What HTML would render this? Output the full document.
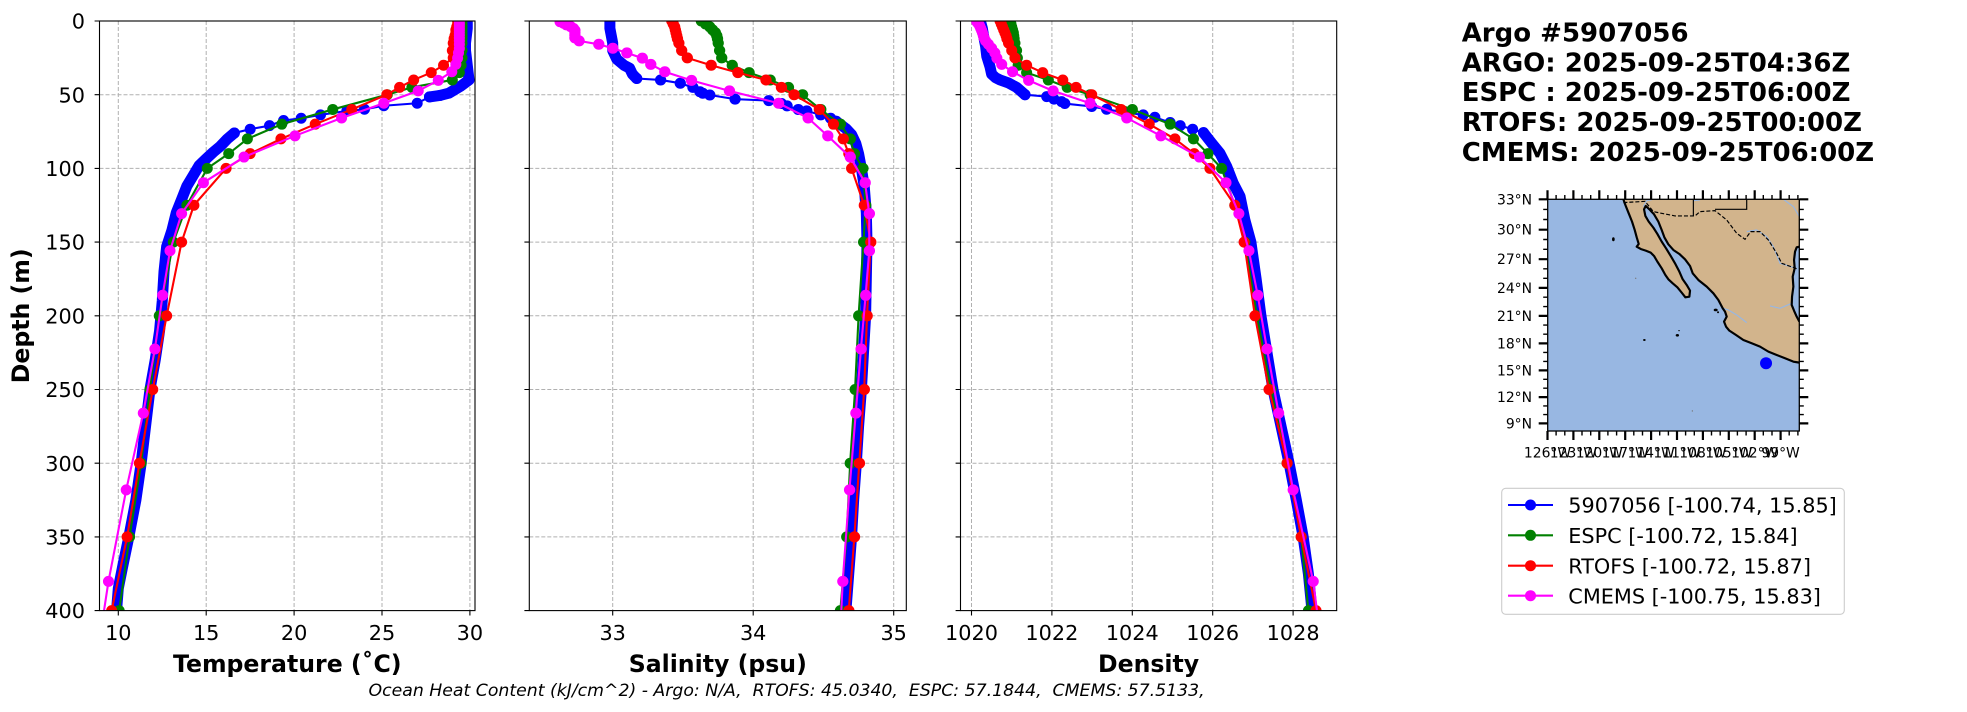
<!DOCTYPE html>
<html><head><meta charset="utf-8"><style>
html,body{margin:0;padding:0;background:#fff;overflow:hidden}
svg{display:block}
text{font-family:"DejaVu Sans","Liberation Sans",sans-serif;fill:#000}
.tk{font-size:20.8px}
.al{font-size:23.6px;font-weight:bold}
.ml{font-size:13.9px}
.ln{fill:none;stroke-width:2.1;stroke-linejoin:round;stroke-linecap:round}
.dt{fill:none;stroke-width:11;stroke-linecap:round;stroke-linejoin:round}
.gr{stroke:#b0b0b0;stroke-width:1;stroke-dasharray:4 2;fill:none}
</style></head><body>
<svg width="1967" height="712" viewBox="0 0 1967 712" xmlns="http://www.w3.org/2000/svg">
<defs>
<clipPath id="cpT"><rect x="99.5" y="21" width="375.5" height="589.6"/></clipPath>
<clipPath id="cpS"><rect x="529.3" y="21" width="377" height="589.6"/></clipPath>
<clipPath id="cpD"><rect x="960.5" y="21" width="376.2" height="589.6"/></clipPath>
<clipPath id="cpM"><rect x="1547.7" y="199.3" width="251.6" height="231.7"/></clipPath>
</defs>
<rect x="0" y="0" width="1967" height="712" fill="#fff"/>

<!-- GRIDS -->
<g class="gr">
<path d="M99.5,94.7H475M99.5,168.4H475M99.5,242.1H475M99.5,315.8H475M99.5,389.5H475M99.5,463.2H475M99.5,536.9H475"/>
<path d="M118.3,21V610.6M206.2,21V610.6M294.1,21V610.6M382,21V610.6M469.9,21V610.6"/>
<path d="M529.3,94.7H906.3M529.3,168.4H906.3M529.3,242.1H906.3M529.3,315.8H906.3M529.3,389.5H906.3M529.3,463.2H906.3M529.3,536.9H906.3"/>
<path d="M612.7,21V610.6M753.2,21V610.6M893.7,21V610.6"/>
<path d="M960.5,94.7H1336.7M960.5,168.4H1336.7M960.5,242.1H1336.7M960.5,315.8H1336.7M960.5,389.5H1336.7M960.5,463.2H1336.7M960.5,536.9H1336.7"/>
<path d="M971.5,21V610.6M1051.9,21V610.6M1132.3,21V610.6M1212.7,21V610.6M1293.1,21V610.6"/>
</g>

<!-- TEMPERATURE SERIES -->
<g clip-path="url(#cpT)">
<g transform="translate(118.3,21) scale(17.58,1.474) translate(-10,0)">
<path class="dt" stroke="#0000ff" vector-effect="non-scaling-stroke" d="M29.85,0 29.85,5 29.8,10 29.75,15 29.75,20 29.8,25 29.85,30 29.9,35 29.95,40 29.5,44 28.8,49 28.3,50.5 27.7,51.5"/>
<path class="ln" stroke="#0000ff" vector-effect="non-scaling-stroke" d="M27.7,51.5 27.0,55.8 25.1,57.5 24.0,59.9 23.0,61 21.5,63.7 20.4,66 19.4,67.5 18.6,71 17.5,73.4 16.6,76"/>
<path class="dt" stroke="#0000ff" vector-effect="non-scaling-stroke" d="M28.3,50.5h.002M27.7,51.5h.002M27.0,55.8h.002M25.1,57.5h.002M24.0,59.9h.002M23.0,61h.002M21.5,63.7h.002M20.4,66h.002M19.4,67.5h.002M18.6,71h.002M17.5,73.4h.002M16.6,76h.002"/>
<path class="dt" stroke="#0000ff" vector-effect="non-scaling-stroke" d="M16.6,76 16.2,80 15.8,85 15.4,89 14.95,94 14.6,98 14.25,105 13.9,112 13.6,121 13.3,130 13.05,142 12.75,153 12.6,170 12.5,190 12.35,210 12.1,230 11.8,250 11.55,275 11.3,300 11.0,325 10.6,350 10.25,370 10.0,385 9.9,400"/>

<path class="ln" stroke="#008000" vector-effect="non-scaling-stroke" d="M29.55,0 29.55,2 29.55,4 29.55,6 29.55,8 29.55,10 29.55,12 29.55,15 29.55,20 29.55,25 29.5,30 29.4,35 29.0,40 26.7,45 25.3,50 22.2,60 19.3,70 17.34,80 16.28,90 15.06,100 13.9,125 13.13,150 12.33,200 11.8,250 11.3,300 10.64,350 10.05,400"/>
<path class="dt" stroke="#008000" vector-effect="non-scaling-stroke" d="M29.55,0h.002M29.55,2h.002M29.55,4h.002M29.55,6h.002M29.55,8h.002M29.55,10h.002M29.55,12h.002M29.55,15h.002M29.55,20h.002M29.55,25h.002M29.5,30h.002M29.4,35h.002M29.0,40h.002M26.7,45h.002M25.3,50h.002M22.2,60h.002M19.3,70h.002M17.34,80h.002M16.28,90h.002M15.06,100h.002M13.9,125h.002M13.13,150h.002M12.33,200h.002M11.8,250h.002M11.3,300h.002M10.64,350h.002M10.05,400h.002"/>

<path class="ln" stroke="#ff0000" vector-effect="non-scaling-stroke" d="M29.3,0 29.3,2 29.25,4 29.2,6 29.2,8 29.15,10 29.1,12 29.05,15 29.0,20 29.05,25 28.5,30 27.8,35 26.8,40 26.0,45 25.27,50 23.28,60 21.2,70 19.25,80 17.5,90 16.13,100 14.3,125 13.6,150 12.75,200 11.96,250 11.2,300 10.5,350 9.62,400"/>
<path class="dt" stroke="#ff0000" vector-effect="non-scaling-stroke" d="M29.3,0h.002M29.3,2h.002M29.25,4h.002M29.2,6h.002M29.2,8h.002M29.15,10h.002M29.1,12h.002M29.05,15h.002M29.0,20h.002M29.05,25h.002M28.5,30h.002M27.8,35h.002M26.8,40h.002M26.0,45h.002M25.27,50h.002M23.28,60h.002M21.2,70h.002M19.25,80h.002M17.5,90h.002M16.13,100h.002M14.3,125h.002M13.6,150h.002M12.75,200h.002M11.96,250h.002M11.2,300h.002M10.5,350h.002M9.62,400h.002"/>

<path class="ln" stroke="#ff00ff" vector-effect="non-scaling-stroke" d="M29.4,0.5 29.4,1.5 29.4,2.6 29.4,3.8 29.4,5.1 29.4,6.4 29.4,7.9 29.4,9.6 29.4,11.4 29.4,13.5 29.4,15.8 29.4,18.5 29.35,21.6 29.3,25.2 29.2,29.4 28.97,34.4 28.2,40.3 27.06,47.4 25.1,55.8 22.7,65.8 20.05,77.9 17.15,92.3 14.84,109.7 13.6,130.7 12.94,155.9 12.52,186.1 12.08,222.5 11.42,266 10.45,318.1 9.44,380.2 8.5,453.9"/>
<path class="dt" stroke="#ff00ff" vector-effect="non-scaling-stroke" d="M29.4,0.5h.002M29.4,1.5h.002M29.4,2.6h.002M29.4,3.8h.002M29.4,5.1h.002M29.4,6.4h.002M29.4,7.9h.002M29.4,9.6h.002M29.4,11.4h.002M29.4,13.5h.002M29.4,15.8h.002M29.4,18.5h.002M29.35,21.6h.002M29.3,25.2h.002M29.2,29.4h.002M28.97,34.4h.002M28.2,40.3h.002M27.06,47.4h.002M25.1,55.8h.002M22.7,65.8h.002M20.05,77.9h.002M17.15,92.3h.002M14.84,109.7h.002M13.6,130.7h.002M12.94,155.9h.002M12.52,186.1h.002M12.08,222.5h.002M11.42,266h.002M10.45,318.1h.002M9.44,380.2h.002"/>
</g>
</g>

<!-- SALINITY SERIES -->
<g clip-path="url(#cpS)">
<g transform="translate(612.7,21) scale(140.5,1.474) translate(-33,0)">
<path class="dt" stroke="#0000ff" vector-effect="non-scaling-stroke" d="M32.98,0 32.98,5 32.99,10 33.0,15 33.0,20 33.03,26 33.08,30 33.12,32 33.14,36 33.17,39"/>
<path class="ln" stroke="#0000ff" vector-effect="non-scaling-stroke" d="M33.17,39 33.34,40 33.48,42.2 33.57,45 33.62,48 33.64,49 33.69,50.2 33.87,53 34.11,54 34.2,56 34.24,57.6 34.32,60 34.38,61 34.48,63.7 34.55,66 34.59,68"/>
<path class="dt" stroke="#0000ff" vector-effect="non-scaling-stroke" d="M33.17,39h.002M33.34,40h.002M33.48,42.2h.002M33.57,45h.002M33.62,48h.002M33.64,49h.002M33.69,50.2h.002M33.87,53h.002M34.11,54h.002M34.2,56h.002M34.24,57.6h.002M34.32,60h.002M34.38,61h.002M34.48,63.7h.002M34.55,66h.002M34.59,68h.002"/>
<path class="dt" stroke="#0000ff" vector-effect="non-scaling-stroke" d="M34.59,68 34.66,73 34.70,77 34.73,83 34.75,90 34.77,100 34.79,112 34.805,130 34.81,150 34.805,175 34.80,200 34.785,225 34.77,250 34.75,275 34.734,300 34.715,325 34.70,350 34.68,375 34.66,400"/>

<path class="ln" stroke="#008000" vector-effect="non-scaling-stroke" d="M33.63,0 33.66,2 33.69,4 33.71,6 33.73,8 33.74,10 33.745,12 33.75,15 33.76,20 33.775,25 33.85,30 33.97,35 34.12,40 34.25,45 34.35,50 34.48,60 34.62,70 34.69,80 34.72,90 34.78,100 34.8,125 34.785,150 34.75,200 34.725,250 34.69,300 34.665,350 34.62,400"/>
<path class="dt" stroke="#008000" vector-effect="non-scaling-stroke" d="M33.63,0h.002M33.66,2h.002M33.69,4h.002M33.71,6h.002M33.73,8h.002M33.74,10h.002M33.745,12h.002M33.75,15h.002M33.76,20h.002M33.775,25h.002M33.85,30h.002M33.97,35h.002M34.12,40h.002M34.25,45h.002M34.35,50h.002M34.48,60h.002M34.62,70h.002M34.69,80h.002M34.72,90h.002M34.78,100h.002M34.8,125h.002M34.785,150h.002M34.75,200h.002M34.725,250h.002M34.69,300h.002M34.665,350h.002M34.62,400h.002"/>

<path class="ln" stroke="#ff0000" vector-effect="non-scaling-stroke" d="M33.42,0 33.43,2 33.44,4 33.445,6 33.45,8 33.455,10 33.46,12 33.47,15 33.49,20 33.53,25 33.7,30 33.89,35 34.09,40 34.2,45 34.29,50 34.47,60 34.57,70 34.64,80 34.68,90 34.7,100 34.79,125 34.836,150 34.81,200 34.79,250 34.755,300 34.72,350 34.68,400"/>
<path class="dt" stroke="#ff0000" vector-effect="non-scaling-stroke" d="M33.42,0h.002M33.43,2h.002M33.44,4h.002M33.445,6h.002M33.45,8h.002M33.455,10h.002M33.46,12h.002M33.47,15h.002M33.49,20h.002M33.53,25h.002M33.7,30h.002M33.89,35h.002M34.09,40h.002M34.2,45h.002M34.29,50h.002M34.47,60h.002M34.57,70h.002M34.64,80h.002M34.68,90h.002M34.7,100h.002M34.79,125h.002M34.836,150h.002M34.81,200h.002M34.79,250h.002M34.755,300h.002M34.72,350h.002M34.68,400h.002"/>

<path class="ln" stroke="#ff00ff" vector-effect="non-scaling-stroke" d="M32.625,0.5 32.65,1.5 32.67,2.6 32.7,3.8 32.72,5.1 32.73,6.4 32.73,7.9 32.73,9.6 32.73,11.4 32.76,13.5 32.9,15.8 33,18.5 33.1,21.6 33.21,25.2 33.27,29.4 33.37,34.4 33.56,40.3 33.83,47.4 34.18,55.8 34.39,65.8 34.53,77.9 34.69,92.3 34.796,109.7 34.826,130.7 34.826,155.9 34.80,186.1 34.767,222.5 34.73,266 34.685,318.1 34.637,380.2 34.6,453.9"/>
<path class="dt" stroke="#ff00ff" vector-effect="non-scaling-stroke" d="M32.625,0.5h.002M32.65,1.5h.002M32.67,2.6h.002M32.7,3.8h.002M32.72,5.1h.002M32.73,6.4h.002M32.73,7.9h.002M32.73,9.6h.002M32.73,11.4h.002M32.76,13.5h.002M32.9,15.8h.002M33,18.5h.002M33.1,21.6h.002M33.21,25.2h.002M33.27,29.4h.002M33.37,34.4h.002M33.56,40.3h.002M33.83,47.4h.002M34.18,55.8h.002M34.39,65.8h.002M34.53,77.9h.002M34.69,92.3h.002M34.796,109.7h.002M34.826,130.7h.002M34.826,155.9h.002M34.80,186.1h.002M34.767,222.5h.002M34.73,266h.002M34.685,318.1h.002M34.637,380.2h.002"/>
</g>
</g>

<!-- DENSITY SERIES -->
<g clip-path="url(#cpD)">
<g transform="translate(971.5,21) scale(40.2,1.474) translate(-1020,0)">
<path class="dt" stroke="#0000ff" vector-effect="non-scaling-stroke" d="M1020.22,0 1020.27,5 1020.3,10 1020.35,17 1020.38,24 1020.46,31 1020.5,36 1020.6,38.5 1020.71,40 1020.92,42 1021.12,45 1021.33,50"/>
<path class="ln" stroke="#0000ff" vector-effect="non-scaling-stroke" d="M1021.33,50 1021.87,51.3 1022.05,53 1022.24,54.7 1022.32,56 1022.99,58 1023.36,59.9 1023.8,62 1024.27,63.7 1024.56,65.3 1024.94,68.9 1025.19,71 1025.5,73.4 1025.77,75.7"/>
<path class="dt" stroke="#0000ff" vector-effect="non-scaling-stroke" d="M1021.33,50h.002M1021.87,51.3h.002M1022.05,53h.002M1022.24,54.7h.002M1022.32,56h.002M1022.99,58h.002M1023.36,59.9h.002M1023.8,62h.002M1024.27,63.7h.002M1024.56,65.3h.002M1024.94,68.9h.002M1025.19,71h.002M1025.5,73.4h.002M1025.77,75.7h.002"/>
<path class="dt" stroke="#0000ff" vector-effect="non-scaling-stroke" d="M1025.77,75.7 1025.98,83 1026.18,89.7 1026.35,98.8 1026.51,110 1026.68,119 1026.8,135 1026.95,150 1027.08,175 1027.2,200 1027.35,225 1027.5,250 1027.7,275 1027.9,300 1028.08,325 1028.25,350 1028.38,375 1028.47,400"/>

<path class="ln" stroke="#008000" vector-effect="non-scaling-stroke" d="M1020.96,0 1020.98,2 1021,4 1021.02,6 1021.04,8 1021.05,10 1021.06,12 1021.08,15 1021.12,20 1021.14,25 1021.16,30 1021.37,35 1021.91,40 1022.38,45 1022.95,50 1024,60 1024.94,70 1025.52,80 1025.88,90 1026.22,100 1026.55,125 1026.8,150 1027.1,200 1027.45,250 1027.85,300 1028.2,350 1028.38,400"/>
<path class="dt" stroke="#008000" vector-effect="non-scaling-stroke" d="M1020.96,0h.002M1020.98,2h.002M1021,4h.002M1021.02,6h.002M1021.04,8h.002M1021.05,10h.002M1021.06,12h.002M1021.08,15h.002M1021.12,20h.002M1021.14,25h.002M1021.16,30h.002M1021.37,35h.002M1021.91,40h.002M1022.38,45h.002M1022.95,50h.002M1024,60h.002M1024.94,70h.002M1025.52,80h.002M1025.88,90h.002M1026.22,100h.002M1026.55,125h.002M1026.8,150h.002M1027.1,200h.002M1027.45,250h.002M1027.85,300h.002M1028.2,350h.002M1028.38,400h.002"/>

<path class="ln" stroke="#ff0000" vector-effect="non-scaling-stroke" d="M1020.71,0 1020.74,2 1020.77,4 1020.8,6 1020.83,8 1020.86,10 1020.88,12 1020.92,15 1021,20 1021.08,25 1021.37,30 1021.77,35 1022.27,40 1022.6,45 1022.99,50 1023.72,60 1024.42,70 1025.06,80 1025.54,90 1025.93,100 1026.55,125 1026.78,150 1027.05,200 1027.4,250 1027.85,300 1028.2,350 1028.57,400"/>
<path class="dt" stroke="#ff0000" vector-effect="non-scaling-stroke" d="M1020.71,0h.002M1020.74,2h.002M1020.77,4h.002M1020.8,6h.002M1020.83,8h.002M1020.86,10h.002M1020.88,12h.002M1020.92,15h.002M1021,20h.002M1021.08,25h.002M1021.37,30h.002M1021.77,35h.002M1022.27,40h.002M1022.6,45h.002M1022.99,50h.002M1023.72,60h.002M1024.42,70h.002M1025.06,80h.002M1025.54,90h.002M1025.93,100h.002M1026.55,125h.002M1026.78,150h.002M1027.05,200h.002M1027.4,250h.002M1027.85,300h.002M1028.2,350h.002M1028.57,400h.002"/>

<path class="ln" stroke="#ff00ff" vector-effect="non-scaling-stroke" d="M1020.13,0.5 1020.16,1.5 1020.19,2.6 1020.21,3.8 1020.23,5.1 1020.25,6.4 1020.27,7.9 1020.29,9.6 1020.31,11.4 1020.35,13.5 1020.42,15.8 1020.5,18.5 1020.58,21.6 1020.63,25.2 1020.75,29.4 1021.02,34.4 1021.42,40.3 1022.03,47.4 1022.95,55.8 1023.86,65.8 1024.71,77.9 1025.67,92.3 1026.33,109.7 1026.65,130.7 1026.9,155.9 1027.12,186.1 1027.35,222.5 1027.64,266 1028,318.1 1028.5,380.2 1028.85,453.9"/>
<path class="dt" stroke="#ff00ff" vector-effect="non-scaling-stroke" d="M1020.13,0.5h.002M1020.16,1.5h.002M1020.19,2.6h.002M1020.21,3.8h.002M1020.23,5.1h.002M1020.25,6.4h.002M1020.27,7.9h.002M1020.29,9.6h.002M1020.31,11.4h.002M1020.35,13.5h.002M1020.42,15.8h.002M1020.5,18.5h.002M1020.58,21.6h.002M1020.63,25.2h.002M1020.75,29.4h.002M1021.02,34.4h.002M1021.42,40.3h.002M1022.03,47.4h.002M1022.95,55.8h.002M1023.86,65.8h.002M1024.71,77.9h.002M1025.67,92.3h.002M1026.33,109.7h.002M1026.65,130.7h.002M1026.9,155.9h.002M1027.12,186.1h.002M1027.35,222.5h.002M1027.64,266h.002M1028,318.1h.002M1028.5,380.2h.002"/>
</g>
</g>

<!-- SPINES & TICKS -->
<g fill="none" stroke="#000" stroke-width="1.1">
<rect x="99.5" y="21" width="375.5" height="589.6"/>
<rect x="529.3" y="21" width="377" height="589.6"/>
<rect x="960.5" y="21" width="376.2" height="589.6"/>
<path d="M94.6,21H99.5M94.6,94.7H99.5M94.6,168.4H99.5M94.6,242.1H99.5M94.6,315.8H99.5M94.6,389.5H99.5M94.6,463.2H99.5M94.6,536.9H99.5M94.6,610.6H99.5"/>
<path d="M524.4,21H529.3M524.4,94.7H529.3M524.4,168.4H529.3M524.4,242.1H529.3M524.4,315.8H529.3M524.4,389.5H529.3M524.4,463.2H529.3M524.4,536.9H529.3M524.4,610.6H529.3"/>
<path d="M955.6,21H960.5M955.6,94.7H960.5M955.6,168.4H960.5M955.6,242.1H960.5M955.6,315.8H960.5M955.6,389.5H960.5M955.6,463.2H960.5M955.6,536.9H960.5M955.6,610.6H960.5"/>
<path d="M118.3,610.6V615.5M206.2,610.6V615.5M294.1,610.6V615.5M382,610.6V615.5M469.9,610.6V615.5"/>
<path d="M612.7,610.6V615.5M753.2,610.6V615.5M893.7,610.6V615.5"/>
<path d="M971.5,610.6V615.5M1051.9,610.6V615.5M1132.3,610.6V615.5M1212.7,610.6V615.5M1293.1,610.6V615.5"/>
</g>

<!-- TICK LABELS -->
<g class="tk" text-anchor="end">
<text x="85" y="28.6">0</text>
<text x="85" y="102.3">50</text>
<text x="85" y="176">100</text>
<text x="85" y="249.7">150</text>
<text x="85" y="323.4">200</text>
<text x="85" y="397.1">250</text>
<text x="85" y="470.8">300</text>
<text x="85" y="544.5">350</text>
<text x="85" y="618.2">400</text>
</g>
<g class="tk" text-anchor="middle">
<text x="118.3" y="640">10</text>
<text x="206.2" y="640">15</text>
<text x="294.1" y="640">20</text>
<text x="382" y="640">25</text>
<text x="469.9" y="640">30</text>
<text x="612.7" y="640">33</text>
<text x="753.2" y="640">34</text>
<text x="893.7" y="640">35</text>
<text x="971.5" y="640">1020</text>
<text x="1051.9" y="640">1022</text>
<text x="1132.3" y="640">1024</text>
<text x="1212.7" y="640">1026</text>
<text x="1293.1" y="640">1028</text>
</g>

<!-- AXIS LABELS -->
<g class="al" text-anchor="middle">
<text x="287.3" y="672">Temperature (˚C)</text>
<text x="717.8" y="672">Salinity (psu)</text>
<text x="1148.6" y="672">Density</text>
<text transform="translate(29,315.8) rotate(-90)" x="0" y="0">Depth (m)</text>
</g>
<text x="368.5" y="696" style="font-size:17.3px;font-style:italic;white-space:pre">Ocean Heat Content (kJ/cm^2) - Argo: N/A,  RTOFS: 45.0340,  ESPC: 57.1844,  CMEMS: 57.5133,</text>

<!-- TITLE BLOCK -->
<g style="font-size:26px;font-weight:bold">
<text x="1461.7" y="41.6">Argo #5907056</text>
<text x="1461.7" y="71.4">ARGO: 2025-09-25T04:36Z</text>
<text x="1461.7" y="101.2">ESPC : 2025-09-25T06:00Z</text>
<text x="1461.7" y="131">RTOFS: 2025-09-25T00:00Z</text>
<text x="1461.7" y="160.8">CMEMS: 2025-09-25T06:00Z</text>
</g>

<!-- MAP -->
<g clip-path="url(#cpM)">
<rect x="1547.7" y="199.3" width="251.6" height="231.7" fill="#98b7e2"/>
<g transform="translate(1547.7,199.3) scale(0.333333) translate(-203,-58)">
<path fill="#d2b48c" d="M430,58 L958,58 L958,200 L950,202 L945,215 L942,240 L944,265 L938,290 L940,320 L936,350 L935,375 L942,392 L950,410 L958,425 L958,548 L940,545 L915,535 L890,525 L865,515 L840,500 L815,490 L790,480 L768,465 L748,452 L738,440 L732,425 L740,410 L735,395 L728,385 L715,360 L700,340 L680,320 L655,300 L638,280 L630,258 L615,238 L598,222 L580,210 L565,193 L553,172 L545,150 L535,125 L522,103 L508,88 L497,78 L492,88 L496,108 L506,125 L520,143 L532,162 L545,185 L558,205 L572,228 L586,252 L598,275 L608,298 L620,315 L630,332 L628,350 L616,352 L605,338 L592,322 L578,310 L565,298 L556,285 L545,265 L532,245 L522,228 L512,218 L497,212 L482,207 L470,200 L476,192 L470,172 L464,150 L456,125 L446,100 L436,75 Z"/>
<g fill="none" stroke="#98b7e2" stroke-width="3.5">
<path d="M720,382 745,390 770,405 800,428"/>
<path d="M870,378 900,385 935,370"/>
<path d="M490,80 500,62 520,58"/>
<path d="M910,58 940,80 958,110"/>
<path d="M800,155 830,150 860,170 880,200 900,250 958,268"/>
<path d="M640,62 660,60"/>
</g>
<g fill="none" stroke="#000" stroke-width="6.5" stroke-linejoin="round">
<path d="M958,200 950,202 945,215 942,240 944,265 938,290 940,320 936,350 935,375 942,392 950,410 958,425"/>
<path d="M958,548 940,545 915,535 890,525 865,515 840,500 815,490 790,480 768,465 748,452 738,440 732,425 740,410 735,395 728,385 715,360 700,340 680,320 655,300 638,280 630,258 615,238 598,222 580,210 565,193 553,172 545,150 535,125 522,103 508,88 497,78 492,88 496,108 506,125 520,143 532,162 545,185 558,205 572,228 586,252 598,275 608,298 620,315 630,332 628,350 616,352 605,338 592,322 578,310 565,298 556,285 545,265 532,245 522,228 512,218 497,212 482,207 470,200 476,192 470,172 464,150 456,125 446,100 436,75 430,58"/>
</g>
<path fill="none" stroke="#000" stroke-width="3.5" stroke-dasharray="12 6" d="M430,68 495,64 520,95 585,108 645,108 660,95 705,92 740,120 770,160 795,178 812,155 840,155 865,180 890,220 905,250 955,268"/>
<path fill="none" stroke="#000" stroke-width="3.5" d="M640,58 640,108 M705,88 800,88 800,58"/>
<g fill="#000">
<ellipse cx="400" cy="178" rx="4" ry="6"/>
<ellipse cx="493" cy="480" rx="4" ry="3"/>
<ellipse cx="592" cy="466" rx="5" ry="4"/>
<ellipse cx="597" cy="452" rx="2" ry="2"/>
<ellipse cx="707" cy="390" rx="6" ry="4"/>
<ellipse cx="714" cy="397" rx="3" ry="3"/>
</g>
<g fill="#777"><circle cx="637" cy="693" r="2"/><circle cx="467" cy="295" r="2"/></g>
<circle cx="858" cy="550" r="18" fill="#0000ff"/>
</g>
</g>
<rect x="1547.7" y="199.3" width="251.6" height="231.7" fill="none" stroke="#000" stroke-width="1.3"/>
<!-- map ticks -->
<g stroke="#000" stroke-width="2.2" fill="none">
<path d="M1547.5,199.3V190.3M1573.4,199.3V190.3M1599.3,199.3V190.3M1625.2,199.3V190.3M1651.1,199.3V190.3M1677,199.3V190.3M1702.9,199.3V190.3M1728.8,199.3V190.3M1754.7,199.3V190.3M1780.6,199.3V190.3"/>
<path d="M1547.5,431V440M1573.4,431V440M1599.3,431V440M1625.2,431V440M1651.1,431V440M1677,431V440M1702.9,431V440M1728.8,431V440M1754.7,431V440M1780.6,431V440"/>
<path d="M1547.7,199.3H1538.7M1547.7,229.7H1538.7M1547.7,259.2H1538.7M1547.7,287.9H1538.7M1547.7,315.9H1538.7M1547.7,343.4H1538.7M1547.7,370.4H1538.7M1547.7,397.1H1538.7M1547.7,423.4H1538.7"/>
<path d="M1799.3,199.3H1808.3M1799.3,229.7H1808.3M1799.3,259.2H1808.3M1799.3,287.9H1808.3M1799.3,315.9H1808.3M1799.3,343.4H1808.3M1799.3,370.4H1808.3M1799.3,397.1H1808.3M1799.3,423.4H1808.3"/>
</g>
<g stroke="#000" stroke-width="1.4" fill="none">
<path d="M1556.1,199.3V195M1564.8,199.3V195M1582,199.3V195M1590.7,199.3V195M1607.9,199.3V195M1616.6,199.3V195M1633.8,199.3V195M1642.5,199.3V195M1659.7,199.3V195M1668.4,199.3V195M1685.6,199.3V195M1694.3,199.3V195M1711.5,199.3V195M1720.2,199.3V195M1737.4,199.3V195M1746.1,199.3V195M1763.3,199.3V195M1772,199.3V195M1789.2,199.3V195M1797.9,199.3V195"/>
<path d="M1556.1,431V435.5M1564.8,431V435.5M1582,431V435.5M1590.7,431V435.5M1607.9,431V435.5M1616.6,431V435.5M1633.8,431V435.5M1642.5,431V435.5M1659.7,431V435.5M1668.4,431V435.5M1685.6,431V435.5M1694.3,431V435.5M1711.5,431V435.5M1720.2,431V435.5M1737.4,431V435.5M1746.1,431V435.5M1763.3,431V435.5M1772,431V435.5M1789.2,431V435.5M1797.9,431V435.5"/>
<path d="M1547.7,209.4H1543.2M1547.7,219.5H1543.2M1547.7,239.5H1543.2M1547.7,249.3H1543.2M1547.7,268.8H1543.2M1547.7,278.3H1543.2M1547.7,297.2H1543.2M1547.7,306.6H1543.2M1547.7,325.1H1543.2M1547.7,334.2H1543.2M1547.7,352.4H1543.2M1547.7,361.4H1543.2M1547.7,379.3H1543.2M1547.7,388.2H1543.2M1547.7,405.9H1543.2M1547.7,414.6H1543.2"/>
<path d="M1799.3,209.4H1803.8M1799.3,219.5H1803.8M1799.3,239.5H1803.8M1799.3,249.3H1803.8M1799.3,268.8H1803.8M1799.3,278.3H1803.8M1799.3,297.2H1803.8M1799.3,306.6H1803.8M1799.3,325.1H1803.8M1799.3,334.2H1803.8M1799.3,352.4H1803.8M1799.3,361.4H1803.8M1799.3,379.3H1803.8M1799.3,388.2H1803.8M1799.3,405.9H1803.8M1799.3,414.6H1803.8"/>
</g>
<g class="ml" text-anchor="end">
<text x="1532" y="204.3">33°N</text>
<text x="1532" y="234.7">30°N</text>
<text x="1532" y="264.2">27°N</text>
<text x="1532" y="292.9">24°N</text>
<text x="1532" y="320.9">21°N</text>
<text x="1532" y="348.4">18°N</text>
<text x="1532" y="375.4">15°N</text>
<text x="1532" y="402.1">12°N</text>
<text x="1532" y="428.4">9°N</text>
</g>
<g class="ml" text-anchor="middle">
<text x="1547.5" y="457.3">126°W</text>
<text x="1573.4" y="457.3">123°W</text>
<text x="1599.3" y="457.3">120°W</text>
<text x="1625.2" y="457.3">117°W</text>
<text x="1651.1" y="457.3">114°W</text>
<text x="1677" y="457.3">111°W</text>
<text x="1702.9" y="457.3">108°W</text>
<text x="1728.8" y="457.3">105°W</text>
<text x="1754.7" y="457.3">102°W</text>
<text x="1780.6" y="457.3">99°W</text>
</g>

<!-- LEGEND -->
<rect x="1501.7" y="488.3" width="342.6" height="126" rx="4" ry="4" fill="#fff" fill-opacity="0.8" stroke="#cccccc" stroke-width="1.1"/>
<g stroke-width="2.1">
<path d="M1508,505H1553" stroke="#0000ff"/>
<path d="M1508,535.3H1553" stroke="#008000"/>
<path d="M1508,565.7H1553" stroke="#ff0000"/>
<path d="M1508,595.7H1553" stroke="#ff00ff"/>
</g>
<circle cx="1530.5" cy="505" r="5.5" fill="#0000ff"/>
<circle cx="1530.5" cy="535.3" r="5.5" fill="#008000"/>
<circle cx="1530.5" cy="565.7" r="5.5" fill="#ff0000"/>
<circle cx="1530.5" cy="595.7" r="5.5" fill="#ff00ff"/>
<g class="tk">
<text x="1568.3" y="512.6">5907056 [-100.74, 15.85]</text>
<text x="1568.3" y="542.9">ESPC [-100.72, 15.84]</text>
<text x="1568.3" y="573.3">RTOFS [-100.72, 15.87]</text>
<text x="1568.3" y="603.3">CMEMS [-100.75, 15.83]</text>
</g>
</svg>
</body></html>
